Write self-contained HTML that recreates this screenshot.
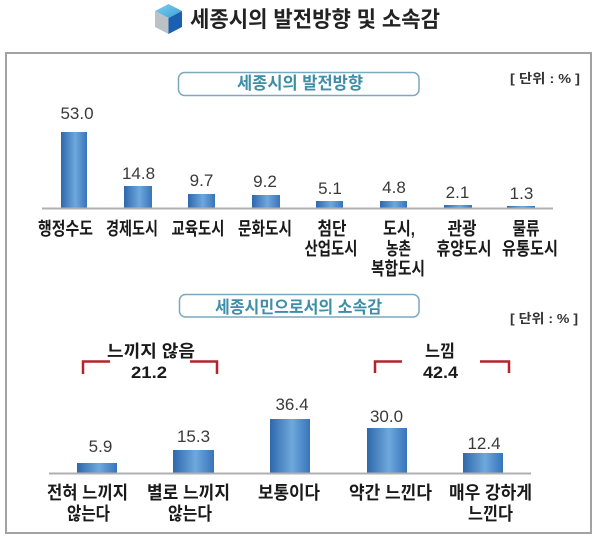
<!DOCTYPE html>
<html>
<head>
<meta charset="utf-8">
<style>
  html,body{margin:0;padding:0;background:#fff;}
  svg{display:block;}
  text{font-family:"Liberation Sans","Noto Sans CJK KR",sans-serif;}
  .t{font-weight:bold;fill:#222;}
  .v{font-size:17px;fill:#3a3a3a;text-anchor:middle;}
  .c{font-size:18px;font-weight:bold;fill:#1a1a1a;text-anchor:middle;}
  .b{font-size:17px;font-weight:bold;fill:#3f8ea8;text-anchor:middle;}
  .u{font-size:13px;font-weight:bold;fill:#333;}
  .g{font-size:17px;font-weight:bold;fill:#1a1a1a;text-anchor:middle;}
</style>
</head>
<body>
<svg width="600" height="545" viewBox="0 0 600 545" xmlns="http://www.w3.org/2000/svg">
  <defs>
    <linearGradient id="bar" x1="0" y1="0" x2="1" y2="0">
      <stop offset="0" stop-color="#2e68ad"/>
      <stop offset="0.55" stop-color="#6fa8dc"/>
      <stop offset="1" stop-color="#3774bb"/>
    </linearGradient>
    <linearGradient id="top" x1="0" y1="0" x2="1" y2="1">
      <stop offset="0" stop-color="#7fd0f0"/>
      <stop offset="1" stop-color="#3aa0d8"/>
    </linearGradient>
  </defs>

  <!-- Title -->
  <polygon points="168.5,4 182,11 168.5,18 155,11" fill="url(#top)"/>
  <polygon points="155,11 168.5,18 168.5,34 155,27" fill="#bcc1c6"/>
  <polygon points="168.5,18 182,11 182,27 168.5,34" fill="#1a5fb0"/>
  <text class="t" x="190" y="27" font-size="22" textLength="250" lengthAdjust="spacingAndGlyphs">세종시의 발전방향 및 소속감</text>

  <!-- Outer box -->
  <rect x="6" y="53" width="585" height="480" fill="#fff" stroke="#a3a3a3" stroke-width="2"/>

  <!-- Chart 1 header -->
  <rect x="178.5" y="72.5" width="240.5" height="23" rx="6" ry="6" fill="#fff" stroke="#7aa9bd" stroke-width="1.5"/>
  <text class="b" x="300" y="89" textLength="126" lengthAdjust="spacingAndGlyphs">세종시의 발전방향</text>
  <text class="u" x="510" y="83" textLength="70" lengthAdjust="spacingAndGlyphs">[ 단위 : % ]</text>

  <!-- Chart 1 bars -->
  <rect x="61" y="132" width="26" height="76" fill="url(#bar)"/>
  <rect x="124" y="186" width="28" height="22" fill="url(#bar)"/>
  <rect x="188" y="194" width="27" height="14" fill="url(#bar)"/>
  <rect x="252" y="195" width="28" height="13" fill="url(#bar)"/>
  <rect x="316" y="201" width="27" height="7" fill="url(#bar)"/>
  <rect x="380" y="201" width="27" height="7" fill="url(#bar)"/>
  <rect x="444" y="205" width="28" height="3" fill="url(#bar)"/>
  <rect x="507" y="206" width="28" height="2" fill="url(#bar)"/>
  <line x1="42" y1="208.5" x2="553" y2="208.5" stroke="#b0b0b0" stroke-width="2"/>

  <!-- Chart 1 values -->
  <text class="v" x="77" y="119">53.0</text>
  <text class="v" x="138.5" y="179">14.8</text>
  <text class="v" x="201.5" y="186">9.7</text>
  <text class="v" x="265" y="187">9.2</text>
  <text class="v" x="330" y="194">5.1</text>
  <text class="v" x="394" y="193">4.8</text>
  <text class="v" x="457.5" y="198">2.1</text>
  <text class="v" x="521.5" y="199">1.3</text>

  <!-- Chart 1 categories -->
  <text class="c" x="65.5" y="235" textLength="55" lengthAdjust="spacingAndGlyphs">행정수도</text>
  <text class="c" x="132" y="235" textLength="52" lengthAdjust="spacingAndGlyphs">경제도시</text>
  <text class="c" x="198" y="235" textLength="53" lengthAdjust="spacingAndGlyphs">교육도시</text>
  <text class="c" x="265" y="235" textLength="54" lengthAdjust="spacingAndGlyphs">문화도시</text>
  <text class="c" x="332" y="235" textLength="29" lengthAdjust="spacingAndGlyphs">첨단</text>
  <text class="c" x="331" y="255" textLength="53" lengthAdjust="spacingAndGlyphs">산업도시</text>
  <text class="c" x="399" y="235" textLength="32" lengthAdjust="spacingAndGlyphs">도시,</text>
  <text class="c" x="398.5" y="255" textLength="25" lengthAdjust="spacingAndGlyphs">농촌</text>
  <text class="c" x="398" y="275" textLength="54" lengthAdjust="spacingAndGlyphs">복합도시</text>
  <text class="c" x="462" y="235" textLength="29" lengthAdjust="spacingAndGlyphs">관광</text>
  <text class="c" x="464" y="255" textLength="55" lengthAdjust="spacingAndGlyphs">휴양도시</text>
  <text class="c" x="526" y="235" textLength="27" lengthAdjust="spacingAndGlyphs">물류</text>
  <text class="c" x="530" y="255" textLength="56" lengthAdjust="spacingAndGlyphs">유통도시</text>

  <!-- Chart 2 header -->
  <rect x="179.5" y="294.5" width="239.5" height="22.5" rx="6" ry="6" fill="#fff" stroke="#7aa9bd" stroke-width="1.5"/>
  <text class="b" x="298.5" y="313" textLength="167" lengthAdjust="spacingAndGlyphs">세종시민으로서의 소속감</text>
  <text class="u" x="510" y="323" textLength="68" lengthAdjust="spacingAndGlyphs">[ 단위 : % ]</text>

  <!-- Brackets -->
  <path d="M83,374 V361.5 H110" fill="none" stroke="#b3242c" stroke-width="2.5"/>
  <path d="M190,361.5 H217 V374" fill="none" stroke="#b3242c" stroke-width="2.5"/>
  <path d="M375,373 V361.5 H402" fill="none" stroke="#b3242c" stroke-width="2.5"/>
  <path d="M480,361.5 H509 V373" fill="none" stroke="#b3242c" stroke-width="2.5"/>
  <text class="g" x="151" y="357" textLength="88" lengthAdjust="spacingAndGlyphs">느끼지 않음</text>
  <text class="g" x="149" y="378" textLength="36" lengthAdjust="spacingAndGlyphs">21.2</text>
  <text class="g" x="440" y="357" textLength="30" lengthAdjust="spacingAndGlyphs">느낌</text>
  <text class="g" x="440.5" y="378" textLength="35" lengthAdjust="spacingAndGlyphs">42.4</text>

  <!-- Chart 2 bars -->
  <rect x="77" y="463" width="40" height="10" fill="url(#bar)"/>
  <rect x="173" y="450" width="41" height="23" fill="url(#bar)"/>
  <rect x="270" y="419" width="40" height="54" fill="url(#bar)"/>
  <rect x="367" y="428" width="40" height="45" fill="url(#bar)"/>
  <rect x="463" y="453" width="40" height="20" fill="url(#bar)"/>
  <line x1="49" y1="473.5" x2="531" y2="473.5" stroke="#b0b0b0" stroke-width="2"/>

  <!-- Chart 2 values -->
  <text class="v" x="100.5" y="452">5.9</text>
  <text class="v" x="193.5" y="442">15.3</text>
  <text class="v" x="292" y="410">36.4</text>
  <text class="v" x="386.5" y="422">30.0</text>
  <text class="v" x="484" y="449">12.4</text>

  <!-- Chart 2 categories -->
  <text class="c" x="87.5" y="499" textLength="81" lengthAdjust="spacingAndGlyphs">전혀 느끼지</text>
  <text class="c" x="88.5" y="520" textLength="43" lengthAdjust="spacingAndGlyphs">않는다</text>
  <text class="c" x="188.5" y="499" textLength="83" lengthAdjust="spacingAndGlyphs">별로 느끼지</text>
  <text class="c" x="190" y="520" textLength="44" lengthAdjust="spacingAndGlyphs">않는다</text>
  <text class="c" x="289" y="499" textLength="62" lengthAdjust="spacingAndGlyphs">보통이다</text>
  <text class="c" x="390.5" y="499" textLength="83" lengthAdjust="spacingAndGlyphs">약간 느낀다</text>
  <text class="c" x="490.5" y="499" textLength="83" lengthAdjust="spacingAndGlyphs">매우 강하게</text>
  <text class="c" x="490.5" y="520" textLength="45" lengthAdjust="spacingAndGlyphs">느낀다</text>
</svg>
</body>
</html>
